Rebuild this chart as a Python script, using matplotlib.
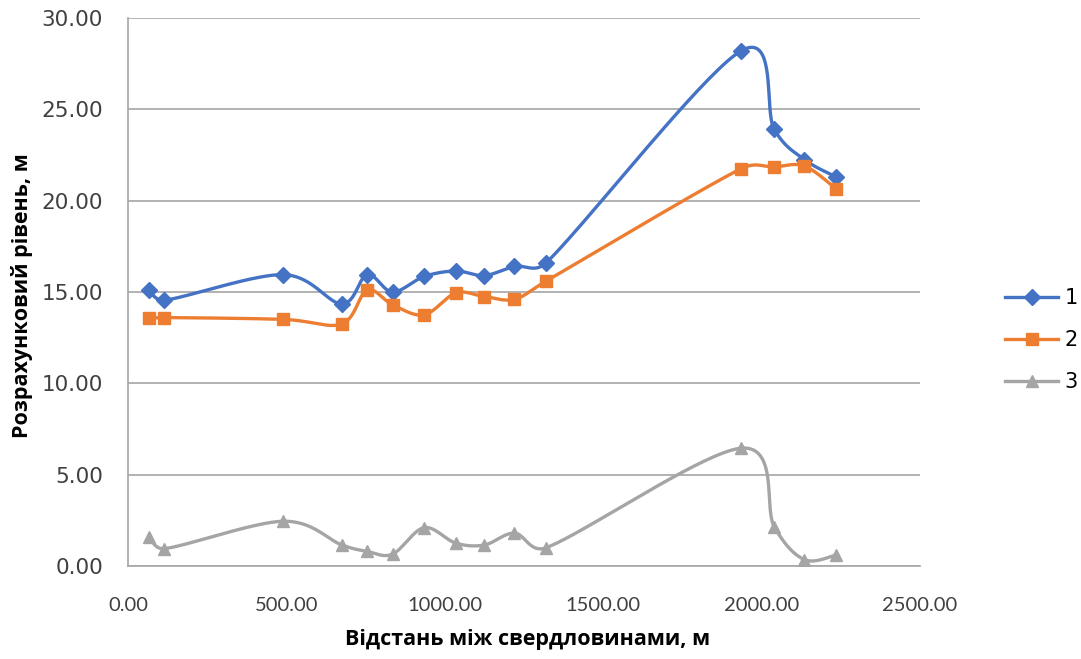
import numpy as np
import matplotlib
matplotlib.use("Agg")
import matplotlib.pyplot as plt

# distances between boreholes, m
distance = [65, 115, 490, 675, 755, 835, 935, 1035, 1125, 1220, 1320, 1935, 2040, 2135, 2235]
level_1 = [15.10, 14.55, 15.95, 14.35, 15.95, 15.00, 15.85, 16.15, 15.90, 16.40, 16.60, 28.20, 23.90, 22.25, 21.30]
level_2 = [13.55, 13.60, 13.50, 13.25, 15.10, 14.30, 13.75, 14.95, 14.75, 14.60, 15.60, 21.75, 21.85, 21.90, 20.65]
level_3 = [1.60, 0.95, 2.45, 1.15, 0.80, 0.65, 2.10, 1.25, 1.15, 1.80, 1.00, 6.45, 2.15, 0.35, 0.60]
series_names = ["1", "2", "3"]
x_ticks = [0, 500, 1000, 1500, 2000, 2500]
y_ticks = [0, 5, 10, 15, 20, 25, 30]

# screen scale (px per unit) so smoothing is done like on the chart
SX, SY = 792 / 2500, 548 / 30


def smooth(x, y, n=40):
    # Excel-like smoothed line: cubic Bezier, control points from neighbours / 6,
    # clipped to half of the segment length
    p = np.column_stack([np.array(x) * SX, np.array(y) * SY]).astype(float)
    out = [p[0]]
    t = np.linspace(0, 1, n)[1:, None]

    def ctrl(a, b, seg_len):
        d = (b - a) / 6
        L = np.hypot(*d)
        lim = 0.5 * seg_len
        if L > lim:
            d = d * lim / L
        return d

    for i in range(len(p) - 1):
        p0 = p[i - 1] if i > 0 else p[i]
        p3 = p[i + 2] if i + 2 < len(p) else p[i + 1]
        seg = np.hypot(*(p[i + 1] - p[i]))
        c1 = p[i] + ctrl(p0, p[i + 1], seg)
        c2 = p[i + 1] - ctrl(p[i], p3, seg)
        b = ((1 - t) ** 3) * p[i] + 3 * ((1 - t) ** 2) * t * c1 + 3 * (1 - t) * t ** 2 * c2 + t ** 3 * p[i + 1]
        out.extend(b)
    out = np.array(out)
    return out[:, 0] / SX, out[:, 1] / SY


fig = plt.figure(figsize=(10.81, 6.59), dpi=100)
ax = fig.add_axes([128 / 1081, 1 - 566 / 659, 792 / 1081, 548 / 659])

styles = [("#4472C4", "D", 8), ("#ED7D31", "s", 9), ("#A5A5A5", "^", 9)]
for vals, name, (col, mk, ms) in zip([level_1, level_2, level_3], series_names, styles):
    sx, sy = smooth(distance, vals)
    ax.plot(sx, sy, color=col, lw=2.4, solid_capstyle="round", zorder=3)
    ax.plot(distance, vals, ls="none", marker=mk, ms=ms, color=col, zorder=4)
    ax.plot([], [], color=col, lw=2.4, marker=mk, ms=ms, label=name)

ax.set_xlim(0, 2500)
ax.set_ylim(0, 30)
ax.set_xticks(x_ticks)
ax.set_yticks(y_ticks)
ax.set_xticklabels(["%.2f" % v for v in x_ticks], fontfamily="Lato", fontsize=14.5)
ax.set_yticklabels(["%.2f" % v for v in y_ticks], fontfamily="DejaVu Sans", fontsize=15.5)
ax.tick_params(length=0, colors="#404040")
ax.tick_params(axis="x", pad=22)
ax.tick_params(axis="y", pad=18)
ax.grid(axis="y", color="#a6a6a6", lw=1.2)
ax.set_axisbelow(True)
for s in ["top", "right"]:
    ax.spines[s].set_visible(False)
for s in ["left", "bottom"]:
    ax.spines[s].set_color("#a6a6a6")
    ax.spines[s].set_linewidth(1.2)

ax.set_xlabel("Відстань між свердловинами, м", fontfamily="Open Sans", fontweight="bold",
              fontsize=15.5)
ax.set_ylabel("Розрахунковий рівень, м", fontfamily="Open Sans", fontweight="bold",
              fontsize=15.5)
ax.xaxis.set_label_coords(0.504, -0.115)
ax.yaxis.set_label_coords(-0.12, 0.493)

ax.legend(loc="center left", bbox_to_anchor=(1005 / 1081, 1 - 340 / 659),
          bbox_transform=fig.transFigure, frameon=False, fontsize=15, borderpad=0,
          borderaxespad=0, handlelength=2.55, labelspacing=1.05, handletextpad=0.3)

fig.savefig("out.png", dpi=100)
